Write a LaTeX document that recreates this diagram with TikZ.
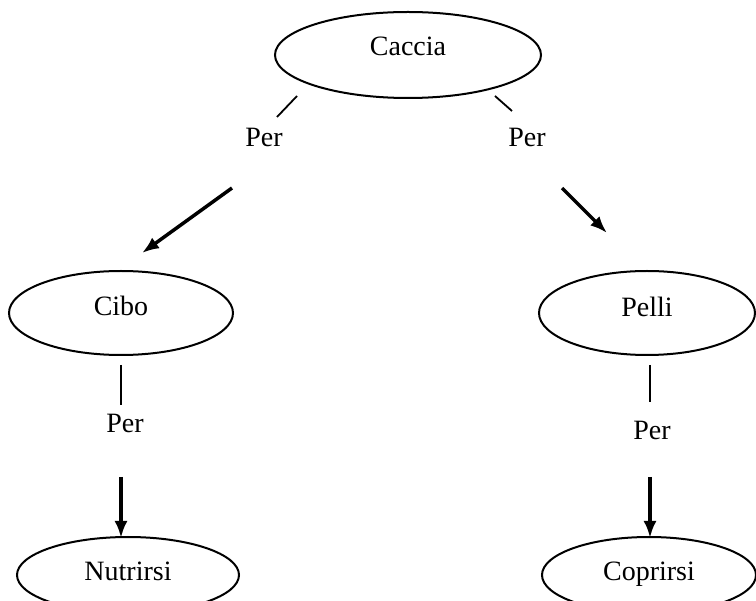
\documentclass[tikz,border=0pt]{standalone}
\usepackage{fontspec}
\setmainfont{Liberation Serif}
\usetikzlibrary{shapes.geometric,arrows.meta}
\begin{document}
\begin{tikzpicture}[x=1pt,y=-1pt,
  concept/.style={draw,ellipse,line width=2pt,inner sep=0pt,font=\fontsize{28}{32}\selectfont},
  lbl/.style={inner sep=0pt,font=\fontsize{28}{32}\selectfont},
  tick/.style={line width=1.8pt},
  arr/.style={line width=3.5pt,-{Latex[length=17pt,width=13pt]}}]
\useasboundingbox (0,0) rectangle (756,601);
\fill[white] (0,0) rectangle (756,601);
% concepts
\node[concept,minimum width=266pt,minimum height=86pt,text depth=18pt] (caccia) at (408,55) {Caccia};
\node[concept,minimum width=224pt,minimum height=84pt,text depth=14pt] (cibo) at (121,313) {Cibo};
\node[concept,minimum width=216pt,minimum height=84pt,text depth=12pt] (pelli) at (647,313) {Pelli};
\node[concept,minimum width=222pt,minimum height=76pt,text depth=8pt] (nutrirsi) at (128,575) {Nutrirsi};
\node[concept,minimum width=214pt,minimum height=76pt,text depth=8pt] (coprirsi) at (649,575) {Coprirsi};
% link labels
\node[lbl] (per1) at (264,137) {Per};
\node[lbl] (per2) at (527,137) {Per};
\node[lbl] (per3) at (125,423) {Per};
\node[lbl] (per4) at (652,430) {Per};
% connector end points
\coordinate (t1a) at (297,96);  \coordinate (t1b) at (277,117);
\coordinate (t2a) at (495,96);  \coordinate (t2b) at (512,111);
\coordinate (t3a) at (121,365); \coordinate (t3b) at (121,405);
\coordinate (t4a) at (650,365); \coordinate (t4b) at (650,402);
\coordinate (a1) at (232,188);
\coordinate (a2) at (562,188);
\coordinate (a3) at (121,477);
\coordinate (a4) at (650,477);
\coordinate (e1) at (142,253);
\coordinate (e2) at (607,233);
\coordinate (e3) at (121,538);
\coordinate (e4) at (650,538);
% connectors
\draw[tick] (t1a) -- (t1b);
\draw[tick] (t2a) -- (t2b);
\draw[tick] (t3a) -- (t3b);
\draw[tick] (t4a) -- (t4b);
\draw[arr] (a1) -- (e1);
\draw[arr] (a2) -- (e2);
\draw[arr] (a3) -- (e3);
\draw[arr] (a4) -- (e4);
\end{tikzpicture}
\end{document}
